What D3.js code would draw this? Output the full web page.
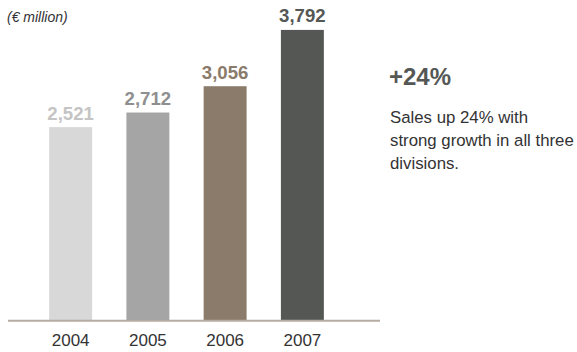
<!DOCTYPE html>
<html>
<head>
<meta charset="utf-8">
<script src="https://cdn.jsdelivr.net/npm/d3@7/dist/d3.min.js"></script>
<style>
  html, body { margin: 0; padding: 0; background: #fff; }
  svg { display: block; font-family: "Liberation Sans", Arial, Helvetica, sans-serif; }
</style>
</head>
<body>
<svg id="chart" width="577" height="352"></svg>
<script>
// Group sales, € million
const years = ["2004", "2005", "2006", "2007"];
const sales = [2521, 2712, 3056, 3792];
const barColors = ["#d8d8d8", "#a5a5a5", "#8b7b6a", "#555755"];
const labelColors = ["#c4c4c4", "#8f8f8f", "#8b7b6a", "#555755"];

const svg = d3.select("#chart");

const x = d3.scaleBand()
  .domain(years)
  .range([32, 341])
  .paddingInner(0.444)
  .paddingOuter(0.222);

const y = d3.scaleLinear()
  .domain([0, 4000])
  .range([320, 14]);

// Bars
svg.append("g")
  .selectAll("rect")
  .data(years)
  .join("rect")
  .attr("x", d => x(d))
  .attr("y", (d, i) => y(sales[i]))
  .attr("width", x.bandwidth())
  .attr("height", (d, i) => y(0) - y(sales[i]))
  .attr("fill", (d, i) => barColors[i]);

// Value labels above bars
const fmt = d3.format(",");
svg.append("g")
  .selectAll("text")
  .data(years)
  .join("text")
  .attr("x", d => x(d) + x.bandwidth() / 2)
  .attr("y", (d, i) => y(sales[i]) - 7.5)
  .attr("text-anchor", "middle")
  .attr("font-size", 18.6)
  .attr("font-weight", "bold")
  .attr("fill", (d, i) => labelColors[i])
  .text((d, i) => fmt(sales[i]));

// Baseline and year labels
const axis = d3.axisBottom(x).tickSize(0).tickPadding(13.5);
const ax = svg.append("g")
  .attr("transform", `translate(0,${y(0)})`)
  .call(axis);
ax.select(".domain").remove();
ax.append("line")
  .attr("x1", 8).attr("x2", 380)
  .attr("y1", 0.7).attr("y2", 0.7)
  .attr("stroke", "#b5aca2")
  .attr("stroke-width", 2);
ax.selectAll(".tick text")
  .attr("font-size", 17)
  .attr("font-family", "'Liberation Sans', Arial, sans-serif")
  .attr("fill", "#333");

// Unit note
svg.append("text")
  .attr("x", 7)
  .attr("y", 22)
  .attr("font-size", 14)
  .attr("font-style", "italic")
  .attr("fill", "#333")
  .text("(€ million)");

// Growth callout
svg.append("text")
  .attr("x", 389)
  .attr("y", 84.5)
  .attr("font-size", 24)
  .attr("font-weight", "bold")
  .attr("fill", "#555755")
  .text("+24%");

const note = ["Sales up 24% with", "strong growth in all three", "divisions."];
svg.append("text")
  .attr("font-size", 16.8)
  .attr("fill", "#333")
  .selectAll("tspan")
  .data(note)
  .join("tspan")
  .attr("x", 390)
  .attr("y", (d, i) => 122.7 + i * 23.3)
  .text(d => d);
</script>
</body>
</html>
